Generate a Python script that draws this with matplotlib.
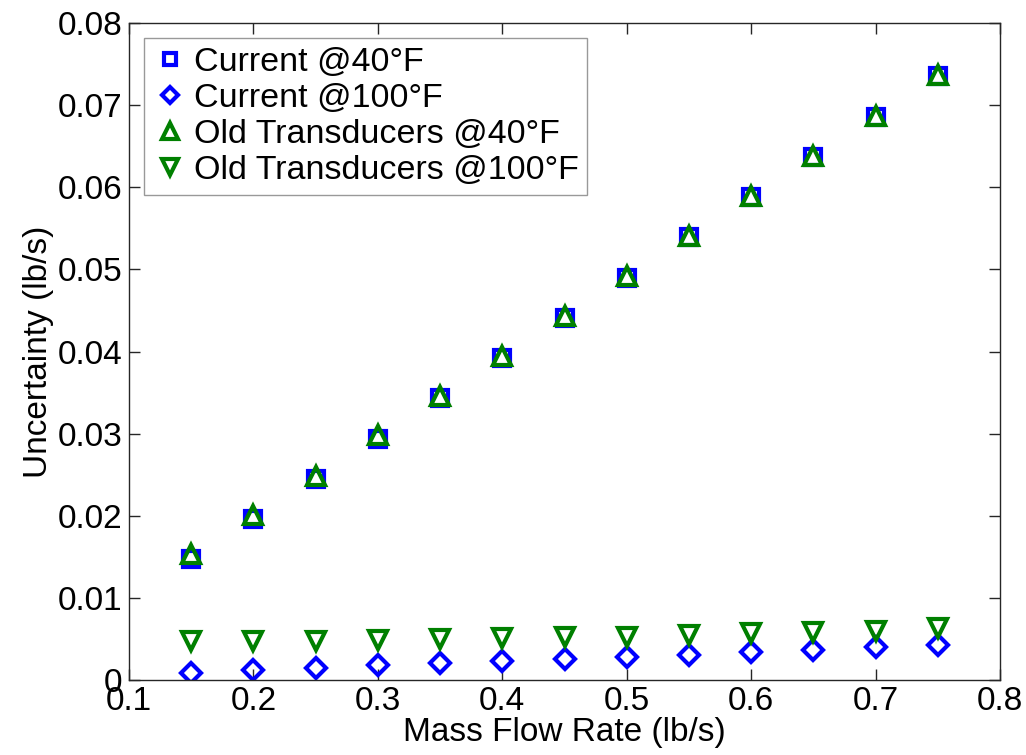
import numpy as np
import matplotlib.pyplot as plt

plt.rcParams['font.family'] = ['Liberation Sans', 'DejaVu Sans']

# data
flow = [0.15, 0.20, 0.25, 0.30, 0.35, 0.40, 0.45, 0.50, 0.55, 0.60, 0.65, 0.70, 0.75]
cur_40 = [0.0147, 0.0196, 0.0245, 0.0294, 0.0343, 0.0392, 0.0441, 0.0490,
          0.0539, 0.0588, 0.0637, 0.0686, 0.0735]
cur_100 = [0.0009, 0.0012, 0.0015, 0.0018, 0.0021, 0.0023, 0.0026, 0.0028,
           0.0031, 0.0034, 0.0037, 0.0040, 0.0043]
old_40 = [0.0153, 0.0201, 0.0249, 0.0298, 0.0346, 0.0394, 0.0443, 0.0492,
          0.0541, 0.0589, 0.0638, 0.0687, 0.0737]
old_100 = [0.0047, 0.0047, 0.0048, 0.0049, 0.0050, 0.0051, 0.0052, 0.0053,
           0.0055, 0.0057, 0.0058, 0.0060, 0.0063]

fig = plt.figure(figsize=(10.26, 7.55), dpi=100)
ax = fig.add_axes([0.1257, 0.0993, 0.849, 0.8702])

ms = 13
mew = 3
ax.plot(flow, cur_40, 's', ms=ms - 2, mew=mew, mfc='none', mec='#0000ff', label='Current @40°F')
ax.plot(flow, cur_100, 'D', ms=ms - 3, mew=mew, mfc='none', mec='#0000ff', label='Current @100°F')
ax.plot(flow, old_40, '^', ms=ms, mew=mew, mfc='none', mec='#008000', label='Old Transducers @40°F')
ax.plot(flow, old_100, 'v', ms=ms, mew=mew, mfc='none', mec='#008000', label='Old Transducers @100°F')

ax.set_xlim(0.1, 0.8)
ax.set_ylim(0, 0.08)
ax.set_xticks(np.arange(0.1, 0.81, 0.1))
ax.set_yticks(np.arange(0, 0.081, 0.01))
ax.set_xticklabels(['0.1', '0.2', '0.3', '0.4', '0.5', '0.6', '0.7', '0.8'])
ax.set_yticklabels(['0', '0.01', '0.02', '0.03', '0.04', '0.05', '0.06', '0.07', '0.08'])
ax.tick_params(direction='in', length=8, width=1, top=True, right=True,
               labelsize=24, colors='#262626', labelcolor='black')
ax.tick_params(axis='y', pad=5)
ax.tick_params(axis='x', pad=4)
for s in ax.spines.values():
    s.set_color('#262626')
    s.set_linewidth(1)

ax.set_xlabel('Mass Flow Rate (lb/s)', fontsize=24, labelpad=0)
ax.set_ylabel('Uncertainty (lb/s)', fontsize=24, labelpad=2)

leg = ax.legend(loc='upper left', fontsize=24.5, frameon=True, fancybox=False,
                handletextpad=0.2, handlelength=1.0, borderpad=0.25,
                labelspacing=0.15, borderaxespad=0.45, markerscale=0.85)
leg.get_frame().set_edgecolor('#808080')
leg.get_frame().set_linewidth(1)

fig.savefig('out.png', dpi=100)
